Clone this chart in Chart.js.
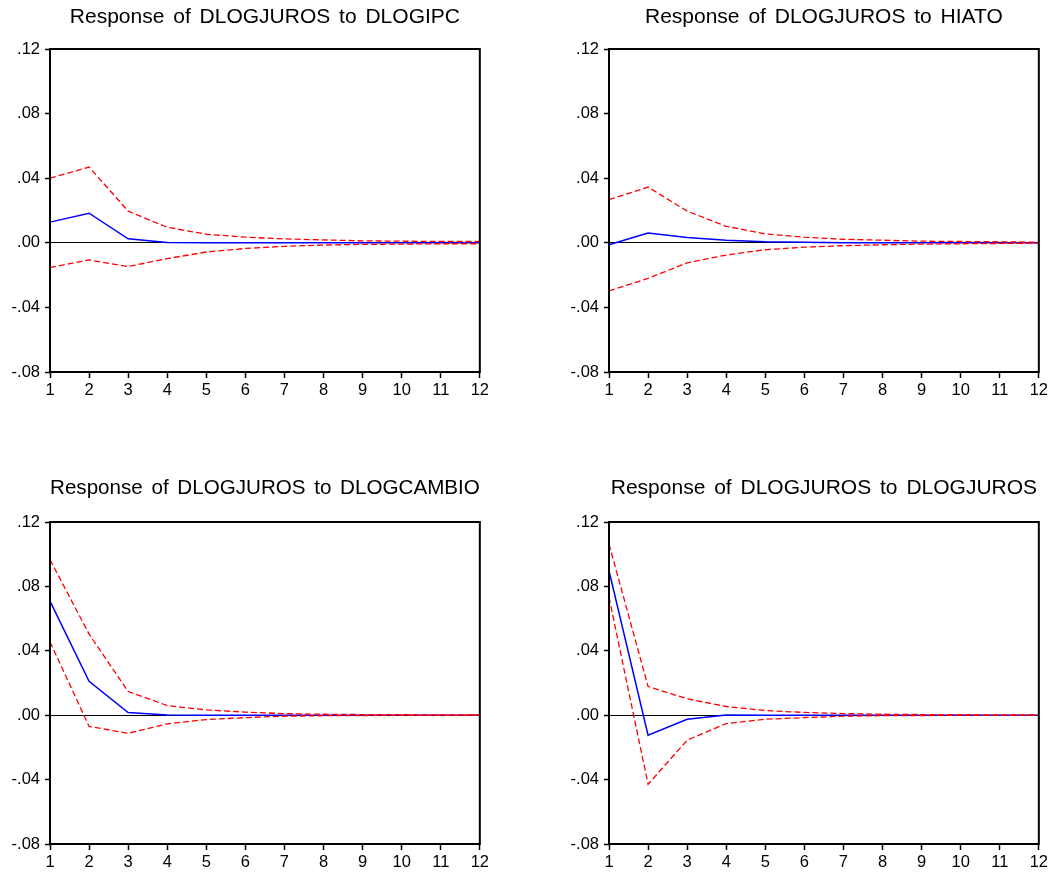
<!DOCTYPE html>
<html lang="en">

<head>
  <meta charset="UTF-8">
  <title>Impulse responses of DLOGJUROS</title>
  <script src="https://cdn.jsdelivr.net/npm/chart.js"></script>
  <style>
    body { margin: 0; background: #fff; }
    .panel { position: absolute; width: 492px; }
  </style>
</head>

<body>
  <div class="panel" style="left: 0px; top: 0px; height: 400px;"><canvas id="ipc"></canvas></div>
  <div class="panel" style="left: 559px; top: 0px; height: 400px;"><canvas id="hiato"></canvas></div>
  <div class="panel" style="left: 0px; top: 470px; height: 402px;"><canvas id="cambio"></canvas></div>
  <div class="panel" style="left: 559px; top: 470px; height: 402px;"><canvas id="juros"></canvas></div>

  <script>
    // periods after the shock
    var periods = ['1', '2', '3', '4', '5', '6', '7', '8', '9', '10', '11', '12'];
    var yTicks = [-0.08, -0.04, 0, 0.04, 0.08, 0.12];

    // response of DLOGJUROS to DLOGIPC
    var ipcResp = [0.0128, 0.0183, 0.0025, 0.0002, 0.0001, 0, 0, 0, 0, 0, 0, 0];
    var ipcUpper = [0.0400, 0.0469, 0.0196, 0.0096, 0.0053, 0.0035, 0.0024, 0.0018, 0.0012, 0.0010, 0.0008, 0.0008];
    var ipcLower = [-0.0153, -0.0106, -0.0147, -0.0098, -0.0057, -0.0035, -0.0022, -0.0014, -0.0010, -0.0008, -0.0006, -0.0006];

    // response of DLOGJUROS to HIATO
    var hiatoResp = [-0.0012, 0.0061, 0.0033, 0.0016, 0.0006, 0.0003, 0.0001, 0, 0, 0, 0, 0];
    var hiatoUpper = [0.0267, 0.0345, 0.0196, 0.0102, 0.0055, 0.0035, 0.0022, 0.0016, 0.0010, 0.0008, 0.0006, 0.0004];
    var hiatoLower = [-0.0298, -0.0220, -0.0124, -0.0076, -0.0043, -0.0027, -0.0018, -0.0012, -0.0008, -0.0006, -0.0004, -0.0002];

    // response of DLOGJUROS to DLOGCAMBIO
    var cambioResp = [0.0709, 0.0211, 0.0017, 0.0002, 0, 0, 0, 0, 0, 0, 0, 0];
    var cambioUpper = [0.0966, 0.0504, 0.0147, 0.0060, 0.0033, 0.0019, 0.0010, 0.0006, 0.0004, 0.0003, 0.0002, 0.0001];
    var cambioLower = [0.0456, -0.0070, -0.0112, -0.0054, -0.0027, -0.0015, -0.0006, -0.0003, -0.0002, -0.0001, -0.0001, 0];

    // response of DLOGJUROS to DLOGJUROS
    var jurosResp = [0.0897, -0.0124, -0.0025, 0.0001, 0, 0, 0, 0, 0, 0, 0, 0];
    var jurosUpper = [0.1063, 0.0178, 0.0102, 0.0054, 0.0029, 0.0017, 0.0010, 0.0006, 0.0004, 0.0003, 0.0002, 0.0001];
    var jurosLower = [0.0732, -0.0429, -0.0155, -0.0052, -0.0025, -0.0015, -0.0006, -0.0003, -0.0002, -0.0001, -0.0001, 0];

    var fontFamily = '"Liberation Sans", Arial, sans-serif';

    // black box around the plot area
    var frame = {
      id: 'frame',
      beforeDraw(chart) {
        chart.ctx.wordSpacing = '3px';
      },
      afterDatasetsDraw(chart) {
        let a = chart.chartArea;
        let ctx = chart.ctx;
        ctx.save();
        ctx.strokeStyle = '#000';
        ctx.lineWidth = 2;
        ctx.strokeRect(a.left, a.top, a.right - a.left, a.bottom - a.top);
        ctx.restore();
      }
    };

    function fmt(v) {
      return v.toFixed(2).replace(/^(-?)0\./, '$1.');
    }

    function MakeChart(id, title, resp, upper, lower, titleTop, titleBottom) {
      let ctx = document.getElementById(id).getContext('2d');
      let band = {
        borderColor: '#ff0000',
        borderWidth: 1.3,
        borderDash: [6, 3],
        pointRadius: 0,
        fill: false,
        tension: 0
      };
      return new Chart(ctx, {
        type: 'line',
        data: {
          labels: periods,
          datasets: [
            Object.assign({ label: 'upper', data: upper }, band),
            Object.assign({ label: 'lower', data: lower }, band),
            {
              label: 'response',
              data: resp,
              borderColor: '#0000ff',
              borderWidth: 1.5,
              pointRadius: 0,
              fill: false,
              tension: 0
            }
          ]
        },
        options: {
          responsive: true,
          maintainAspectRatio: false,
          animation: false,
          layout: { padding: { left: 0, right: 11, top: 0, bottom: 0 } },
          plugins: {
            legend: { display: false },
            tooltip: { enabled: false },
            title: {
              display: true,
              text: title,
              fullSize: false,
              color: '#000',
              font: { family: fontFamily, size: 21, weight: 'normal', lineHeight: 1 },
              padding: { top: titleTop, bottom: titleBottom }
            }
          },
          scales: {
            x: {
              type: 'category',
              offset: false,
              grid: { color: 'transparent', drawTicks: true, tickLength: 6, tickColor: '#000', tickWidth: 1.5 },
              border: { display: false },
              ticks: { color: '#000', font: { family: fontFamily, size: 16.5 }, padding: 3, maxRotation: 0, autoSkip: false },
              afterFit(scale) { scale.height = 28; }
            },
            y: {
              min: -0.08,
              max: 0.12,
              afterBuildTicks(scale) { scale.ticks = yTicks.map(v => ({ value: v })); },
              grid: {
                color: c => (c.tick && Math.abs(c.tick.value) < 1e-9) ? '#000' : 'transparent',
                lineWidth: 1,
                drawTicks: true,
                tickLength: 5,
                tickColor: '#000',
                tickWidth: 1.5
              },
              border: { display: false },
              ticks: { color: '#000', font: { family: fontFamily, size: 16.5 }, padding: 5, callback: v => fmt(v) },
              afterFit(scale) { scale.width = 50; }
            }
          }
        },
        plugins: [frame]
      });
    }

    MakeChart('ipc', 'Response of DLOGJUROS to DLOGIPC', ipcResp, ipcUpper, ipcLower, 7, 21);
    MakeChart('hiato', 'Response of DLOGJUROS to HIATO', hiatoResp, hiatoUpper, hiatoLower, 7, 21);
    MakeChart('cambio', 'Response of DLOGJUROS to DLOGCAMBIO', cambioResp, cambioUpper, cambioLower, 8, 23);
    MakeChart('juros', 'Response of DLOGJUROS to DLOGJUROS', jurosResp, jurosUpper, jurosLower, 8, 23);
  </script>
</body>

</html>
